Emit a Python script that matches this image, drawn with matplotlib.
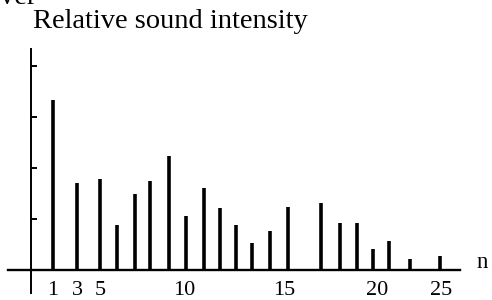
import numpy as np
import matplotlib
matplotlib.use("Agg")
import matplotlib.pyplot as plt

# ---- data ----
harmonic_n = [1, 3, 5, 6, 7.1, 8, 9.1, 10.1, 11.0, 11.8, 12.6, 13.4, 14.3, 15.2,
              17.0, 18.0, 18.9, 19.8, 20.9, 22.6, 24.9]
intensity = [3.33, 1.69, 1.77, 0.88, 1.48, 1.73, 2.22, 1.05, 1.59, 1.20, 0.88,
             0.52, 0.76, 1.23, 1.31, 0.92, 0.92, 0.41, 0.56, 0.20, 0.27]
xtick_values = [1, 3, 5, 10, 15, 20, 25]
xtick_labels = ["1", "3", "5", "10", "15", "20", "25"]
ytick_values = [1, 2, 3, 4]
title_text = "Relative sound intensity"
xlabel_text = "n"

# hand-drawn axis: piecewise-linear scale between labelled points
_scale_n = np.array([-3, 1, 3, 5, 10, 15, 20, 25, 27], dtype=float)
_scale_u = np.array([5, 53, 77, 100, 184, 284, 377, 441, 466.6], dtype=float)

def fwd(x):
    return np.interp(x, _scale_n, _scale_u)

def inv(u):
    return np.interp(u, _scale_u, _scale_n)

plt.rcParams['font.family'] = ['Liberation Serif', 'DejaVu Serif']

W, H = 492, 300
fig = plt.figure(figsize=(W / 100, H / 100), dpi=100)
left_px, right_px, top_px, bottom_px = 8, 460, 49, 293
ax = fig.add_axes([left_px / W, 1 - bottom_px / H, (right_px - left_px) / W,
                   (bottom_px - top_px) / H])
ax.set_xscale('function', functions=(fwd, inv))
ax.set_xlim(inv(left_px), inv(right_px))
base_px = 269.5
unit_px = 51.0
ax.set_ylim(-(bottom_px - base_px) / unit_px, (base_px - top_px) / unit_px)

ax.vlines(harmonic_n, 0, intensity, colors='black', linewidth=2.6, zorder=2)

for s in ['top', 'right']:
    ax.spines[s].set_visible(False)
ax.spines['left'].set_position(('data', inv(31.5)))
ax.spines['bottom'].set_position(('data', 0))
ax.spines['left'].set_linewidth(1.4)
ax.spines['bottom'].set_linewidth(1.7)
ax.spines['bottom'].set_zorder(3)

ax.set_xticks(xtick_values)
ax.set_xticklabels(xtick_labels)
ax.xaxis.set_minor_locator(matplotlib.ticker.NullLocator())
ax.tick_params(axis='x', length=0, pad=8, labelsize=16)
ax.set_yticks(ytick_values)
ax.set_yticklabels([])
ax.yaxis.set_minor_locator(matplotlib.ticker.NullLocator())
ax.tick_params(axis='y', direction='in', length=4, width=1.4)

fig.text(33 / W, 1 - 28.5 / H, title_text, fontsize=20.5, va='baseline', ha='left')
fig.text(477 / W, 1 - 268 / H, xlabel_text, fontsize=16.5, va='baseline', ha='left')
fig.text(0, 1 - 4 / H, "ver", fontsize=20.5, va='baseline', ha='left')

fig.savefig("out.png", dpi=100)
